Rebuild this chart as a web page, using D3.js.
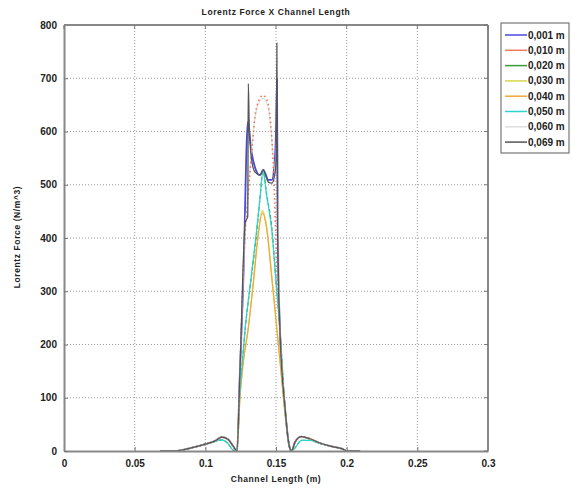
<!DOCTYPE html>
<html><head><meta charset="utf-8">
<script src="https://cdn.jsdelivr.net/npm/d3@7"></script>
<style>body{margin:0;background:#fff}svg{display:block}text{font-family:"Liberation Sans",Arial,sans-serif;font-weight:bold;fill:#222}</style>
</head><body>
<svg id="c" width="572" height="488"></svg>
<script>
const seriesNames = ["0,001 m","0,010 m","0,020 m","0,030 m","0,040 m","0,050 m","0,060 m","0,069 m"];
const seriesColors = ["#4a4ae0","#f07a5a","#3c9a3c","#d8d84a","#f5a63a","#2ad4d0","#dedede","#555555"];
const xTicks = [0,0.05,0.1,0.15,0.2,0.25,0.3];
const yTicks = [0,100,200,300,400,500,600,700,800];

// shared tails
const tailLeftX = [0.068,0.0785,0.09,0.1,0.107,0.1116,0.116,0.1195,0.1224];
const tailLeftY = [0,0,6,13,19,26,22,10,0];
const tailLeftYb = [0,0,6,13,18,21,14,2,0];
const tailRightX = [0.161,0.1635,0.168,0.174,0.181,0.19,0.197,0.2,0.2095];
const tailRightY = [0,17,27,23,15,8,4,0,0];
const tailRightYb = [0,6,20,20,14,8,4,0,0];

// central peak points for each series
const peakX_001 = [0.1245,0.1275,0.1290,0.1300,0.1310,0.1328,0.1351,0.1387,0.1410,0.1446,0.1470,0.1490,0.1500,0.1507,0.1512,0.1528,0.1564,0.1595];
const peakY_001 = [150,380,560,618,600,560,533,518,528,509,509,540,600,697,420,227,80,8];
const peakX_010 = [0.1245,0.1275,0.1300,0.1328,0.1351,0.1380,0.1408,0.1440,0.1460,0.1475,0.1490,0.1505,0.1528,0.1564,0.1595];
const peakY_010 = [150,380,470,560,627,659,668,656,622,565,471,350,227,80,8];
const peakX_020 = [0.1240,0.1260,0.1281,0.1320,0.1359,0.1385,0.1408,0.1435,0.1470,0.1500,0.1528,0.1564,0.1595];
const peakY_020 = [90,160,227,315,400,470,525,480,420,320,227,80,8];
const peakX_030 = [0.1245,0.1270,0.1302,0.1340,0.1370,0.1403,0.1435,0.1470,0.1507,0.1535,0.1564,0.1595];
const peakY_030 = [100,170,227,320,400,452,420,330,227,150,70,8];
const peakX_040 = [0.1245,0.1270,0.1302,0.1340,0.1370,0.1403,0.1435,0.1470,0.1507,0.1535,0.1564,0.1595];
const peakY_040 = [100,170,227,315,395,447,415,325,227,150,70,8];
const peakX_050 = [0.1240,0.1260,0.1281,0.1320,0.1359,0.1385,0.1408,0.1435,0.1470,0.1500,0.1528,0.1564,0.1595];
const peakY_050 = [90,160,227,318,405,470,525,478,415,318,227,80,8];
const peakX_060 = [0.1245,0.1275,0.1300,0.1328,0.1351,0.1380,0.1408,0.1440,0.1460,0.1478,0.1495,0.1507,0.1528,0.1564,0.1595];
const peakY_060 = [150,380,480,565,625,655,662,650,615,560,520,600,227,80,8];
const peakX_069 = [0.1245,0.1283,0.1300,0.1304,0.1310,0.1328,0.1351,0.1387,0.1410,0.1446,0.1470,0.1493,0.1503,0.1506,0.1512,0.1528,0.1564,0.1595];
const peakY_069 = [150,430,440,690,620,546,524,518,528,505,503,522,560,766,420,227,80,8];

const peaksX = [peakX_001,peakX_010,peakX_020,peakX_030,peakX_040,peakX_050,peakX_060,peakX_069];
const peaksY = [peakY_001,peakY_010,peakY_020,peakY_030,peakY_040,peakY_050,peakY_060,peakY_069];
const useAltTail = [false,false,true,false,false,true,false,false];

const svg = d3.select("#c");
const L=64,R=488,T=25,B=451;
const x = d3.scaleLinear().domain([0,0.3]).range([L,R]);
const y = d3.scaleLinear().domain([0,800]).range([B,T]);

// grid
const g = svg.append("g");
g.selectAll(".gx").data(xTicks.slice(1,-1)).enter().append("line")
 .attr("x1",d=>x(d)).attr("x2",d=>x(d)).attr("y1",T).attr("y2",B)
 .attr("stroke","#9a9a9a").attr("stroke-width",1).attr("stroke-dasharray","1,2");
g.selectAll(".gy").data(yTicks.slice(1,-1)).enter().append("line")
 .attr("y1",d=>y(d)).attr("y2",d=>y(d)).attr("x1",L).attr("x2",R)
 .attr("stroke","#9a9a9a").attr("stroke-width",1).attr("stroke-dasharray","1,2");

// series
const line = d3.line().x(d=>x(d[0])).y(d=>y(d[1])).curve(d3.curveMonotoneX);
svg.append("clipPath").attr("id","pc").append("rect").attr("x",L).attr("y",T).attr("width",R-L).attr("height",B-T);
const order = [0,2,3,4,5,6,1,7];
order.forEach(i=>{
  const ly = useAltTail[i]?tailLeftYb:tailLeftY;
  const ry = useAltTail[i]?tailRightYb:tailRightY;
  const pts = tailLeftX.map((v,k)=>[v,ly[k]])
    .concat(peaksX[i].map((v,k)=>[v,peaksY[i][k]]))
    .concat(tailRightX.map((v,k)=>[v,ry[k]]));
  const p = svg.append("path").datum(pts).attr("d",line).attr("fill","none")
    .attr("stroke",seriesColors[i]).attr("clip-path","url(#pc)")
    .attr("stroke-width", i===0?1.8:(i===7?1.3:1.2));
  if(i===1) p.attr("stroke-dasharray","1.5,3").attr("stroke-width",1.6);
  if(i===2) p.attr("stroke-dasharray","4,2");
});

// axes
const ax = svg.append("g").attr("transform",`translate(0,${B})`)
  .call(d3.axisBottom(x).tickValues(xTicks).tickFormat(d=>d3.format("")(d)).tickSizeInner(-4).tickSizeOuter(0).tickPadding(9));
const ay = svg.append("g").attr("transform",`translate(${L},0)`)
  .call(d3.axisLeft(y).tickValues(yTicks).tickSizeInner(-4).tickSizeOuter(0).tickPadding(7));
[ax,ay].forEach(a=>{a.selectAll("text").style("font-size","10px").attr("fill","#1a1a1a");
  a.selectAll("line").attr("stroke","#777"); a.select(".domain").attr("stroke","#888").attr("stroke-width",2);});
svg.append("line").attr("x1",L).attr("x2",R).attr("y1",T).attr("y2",T).attr("stroke","#888").attr("stroke-width",2);
svg.append("line").attr("x1",R).attr("x2",R).attr("y1",T).attr("y2",B).attr("stroke","#888").attr("stroke-width",2);
svg.selectAll(".tt").data(xTicks).enter().append("line").attr("x1",d=>x(d)).attr("x2",d=>x(d)).attr("y1",T).attr("y2",T+4).attr("stroke","#777");
svg.selectAll(".rt").data(yTicks).enter().append("line").attr("y1",d=>y(d)).attr("y2",d=>y(d)).attr("x1",R).attr("x2",R-4).attr("stroke","#777");

// titles
svg.append("text").attr("x",276).attr("y",15).attr("text-anchor","middle").style("font-size","8.5px").style("letter-spacing","0.6px").text("Lorentz Force X Channel Length");
svg.append("text").attr("x",276).attr("y",482).attr("text-anchor","middle").style("font-size","8.5px").style("letter-spacing","0.6px").text("Channel Length (m)");
svg.append("text").attr("transform","translate(20,237) rotate(-90)").attr("text-anchor","middle").style("font-size","8.5px").style("letter-spacing","0.6px").text("Lorentz Force (N/m^3)");

// legend
const lg = svg.append("g");
lg.append("rect").attr("x",501).attr("y",23).attr("width",68).attr("height",130).attr("fill","#fff").attr("stroke","#777").attr("stroke-width",1.2);
seriesNames.forEach((n,i)=>{
  const yy = 35+i*15.3;
  lg.append("line").attr("x1",505).attr("x2",527).attr("y1",yy).attr("y2",yy).attr("stroke",seriesColors[i]).attr("stroke-width",1.5);
  lg.append("text").attr("x",528).attr("y",yy+3.5).style("font-size","10px").text(n);
});
</script>
</body></html>
